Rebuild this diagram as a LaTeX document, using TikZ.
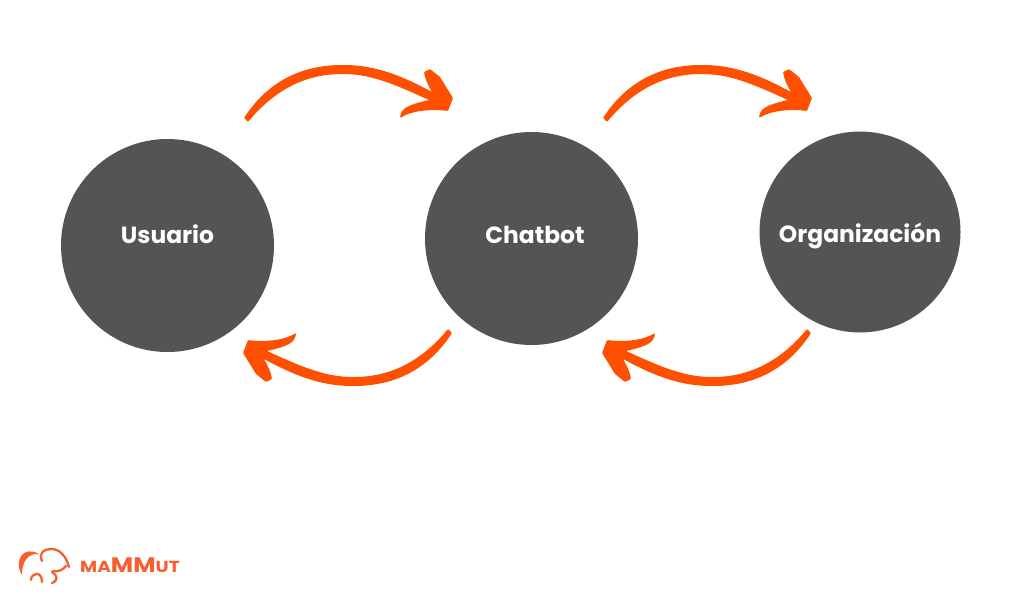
\documentclass[tikz,border=0pt]{standalone}
\usepackage{fontspec}
\setmainfont{Poppins}
\definecolor{mammutorange}{HTML}{FF4F00}
\definecolor{logoorange}{HTML}{F4602F}
\definecolor{discgrey}{HTML}{545454}
\usetikzlibrary{positioning}
\tikzset{
  disc/.style={circle, fill=discgrey, inner sep=0pt},
  disclabel/.style={text=white, inner sep=0pt, font=\bfseries\fontsize{23.4}{23.4}\selectfont},
  logostroke/.style={logoorange, line width=2.3pt, line cap=round},
  curvedarrow/.pic={
    \fill[mammutorange, rounded corners=1pt]
      (-104,26) .. controls (-85,-3) and (-55,-27) .. (-5,-27)
      .. controls (30,-27) and (58,-14) .. (84,0)
      .. controls (80,-7) and (77,-13) .. (76,-20) -- (82,-23) -- (92,-15) -- (105,6) -- (100,19)
      .. controls (85,17) and (65,18) .. (52,26)
      .. controls (53,16) and (60,13) .. (81,8)
      .. controls (52,-5) and (25,-18) .. (-5,-18)
      .. controls (-45,-18) and (-75,0) .. (-100,30) -- cycle;
  }
}
\begin{document}
\begin{tikzpicture}[x=1pt, y=-1pt]
  \useasboundingbox (0,0) rectangle (1024,610);
  % Discs
  \node[disc, minimum size=213pt] (usuario) at (167.5,245.5) {};
  \node[disc, minimum size=213pt] (chatbot) at (531.5,238.5) {};
  \node[disc, minimum size=201pt] (organizacion) at (860,232) {};
  \node[disclabel] (usuariotext) at (167.5,234.5) {Usuario};
  \node[disclabel] (chatbottext) at (535,235) {Chatbot};
  \node[disclabel] (organizaciontext) at (860,236) {Organización};
  % Arrows
  \pic at (348,92) {curvedarrow};
  \pic at (707,92) {curvedarrow};
  \pic[rotate=180] at (348,359) {curvedarrow};
  \pic[rotate=180] at (707,359) {curvedarrow};
  % Logo
  \fill[logoorange] (22,575) .. controls (13,560) and (24,545) .. (39,554)
    .. controls (29,553) and (22,560) .. (22,575) -- cycle;
  \draw[logostroke] (42,561) .. controls (38,552) and (45,549) .. (51,549)
    .. controls (60,549) and (66,556) .. (69,567);
  \draw[logostroke] (53,571) .. controls (58,572) and (63,570) .. (66,566);
  \draw[logostroke] (52,572) .. controls (57,575) and (59,580) .. (52,583);
  \draw[logostroke] (31,580) .. controls (31,573) and (42,570) .. (42,582);
  \node[logoorange, anchor=base west, inner sep=0pt, xscale=1.16, font=\bfseries] (logoname) at (80,572)
    {\fontsize{16}{16}\selectfont MA\fontsize{21}{21}\selectfont MM\fontsize{16}{16}\selectfont UT};
\end{tikzpicture}
\end{document}
